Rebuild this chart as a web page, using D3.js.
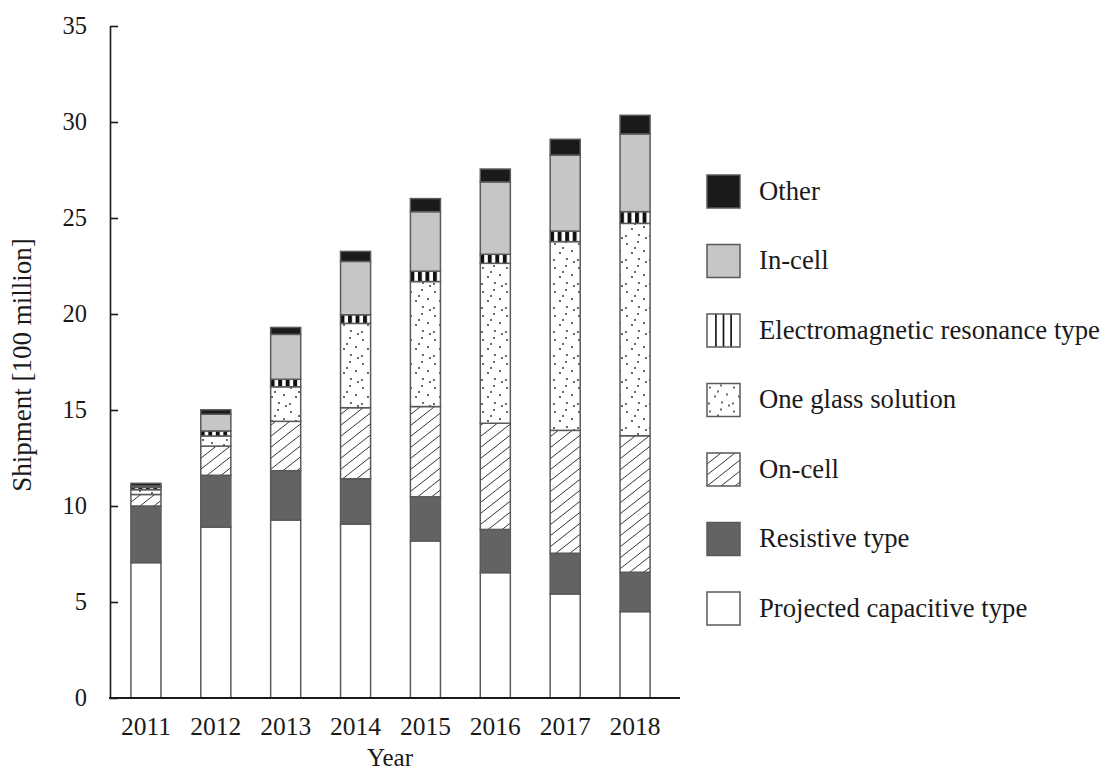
<!DOCTYPE html>
<html>
<head>
<meta charset="utf-8">
<script src="https://cdn.jsdelivr.net/npm/d3@7"></script>
<style>
  html, body { margin: 0; padding: 0; background: #fff; }
  svg { display: block; }
  text { font-family: "Liberation Serif", "Times New Roman", serif; fill: #1a1a1a; }
</style>
</head>
<body>
<svg id="chart" width="1103" height="774"></svg>
<script>
// Touch panel shipments by technology, in units of 100 million
const years = ["2011", "2012", "2013", "2014", "2015", "2016", "2017", "2018"];

const projectedCapacitive = [7.05, 8.90, 9.27, 9.06, 8.18, 6.53, 5.42, 4.50];
const resistive           = [2.95, 2.70, 2.57, 2.36, 2.30, 2.25, 2.12, 2.05];
const onCell              = [0.60, 1.52, 2.57, 3.70, 4.70, 5.53, 6.40, 7.11];
const oneGlassSolution    = [0.25, 0.53, 1.80, 4.39, 6.51, 8.33, 9.83, 11.06];
const electromagnetic     = [0.12, 0.26, 0.39, 0.45, 0.54, 0.47, 0.55, 0.61];
const inCell              = [0.08, 0.87, 2.34, 2.78, 3.10, 3.77, 3.96, 4.05];
const other               = [0.13, 0.23, 0.36, 0.52, 0.68, 0.67, 0.82, 0.97];

const seriesNames = [
  "Projected capacitive type", "Resistive type", "On-cell", "One glass solution",
  "Electromagnetic resonance type", "In-cell", "Other"
];
const seriesValues = [projectedCapacitive, resistive, onCell, oneGlassSolution,
                      electromagnetic, inCell, other];
const yTicks = [0, 5, 10, 15, 20, 25, 30, 35];

const svg = d3.select("#chart");
const defs = svg.append("defs");

// ---- fill patterns ----
// diagonal hatch
const hatch = defs.append("pattern")
  .attr("id", "hatch").attr("patternUnits", "userSpaceOnUse")
  .attr("width", 14).attr("height", 11);
hatch.append("rect").attr("width", 14).attr("height", 11).attr("fill", "#fff");
hatch.append("path").attr("d", "M-1,11.8 L15,-0.8 M-15,11.8 L1,-0.8 M13,11.8 L29,-0.8")
  .attr("stroke", "#333").attr("stroke-width", 1);

// sparse stipple
const stipple = defs.append("pattern")
  .attr("id", "stipple").attr("patternUnits", "userSpaceOnUse")
  .attr("width", 24).attr("height", 24);
stipple.append("rect").attr("width", 24).attr("height", 24).attr("fill", "#fff");
[[3, 4], [14, 2], [20, 11], [8, 13], [2, 20], [15, 19], [11, 8], [22, 22]].forEach(([x, y]) =>
  stipple.append("circle").attr("cx", x).attr("cy", y).attr("r", 0.9).attr("fill", "#222"));

// vertical stripes across a bar segment
const stripes = defs.append("pattern")
  .attr("id", "stripes").attr("patternUnits", "objectBoundingBox")
  .attr("patternContentUnits", "objectBoundingBox")
  .attr("width", 0.25).attr("height", 1);
stripes.append("rect").attr("width", 0.25).attr("height", 1).attr("fill", "#fff");
stripes.append("rect").attr("width", 0.13).attr("height", 1).attr("fill", "#111");

// thin vertical rules for the legend swatch
const rules = defs.append("pattern")
  .attr("id", "rules").attr("patternUnits", "objectBoundingBox")
  .attr("patternContentUnits", "objectBoundingBox")
  .attr("width", 1).attr("height", 1);
rules.append("rect").attr("width", 1).attr("height", 1).attr("fill", "#fff");
[0.27, 0.5, 0.73].forEach(x =>
  rules.append("rect").attr("x", x - 0.025).attr("width", 0.05).attr("height", 1).attr("fill", "#111"));

const fills = ["#ffffff", "#636363", "url(#hatch)", "url(#stipple)", "url(#stripes)", "#c6c6c6", "#1a1a1a"];
const legendFills = ["#ffffff", "#636363", "url(#hatch)", "url(#stipple)", "url(#rules)", "#c6c6c6", "#1a1a1a"];

// ---- scales ----
const x = d3.scaleBand().domain(years).range([111, 670])
  .paddingInner(0.57).paddingOuter(0.285);
const y = d3.scaleLinear().domain([0, 35]).range([698, 26]);

// ---- stacked data ----
const rows = years.map((yr, i) => {
  const r = { year: yr };
  seriesNames.forEach((n, k) => r[n] = seriesValues[k][i]);
  return r;
});
const stacked = d3.stack().keys(seriesNames)(rows);

const layers = svg.append("g").selectAll("g")
  .data(stacked).join("g")
  .attr("fill", (d, i) => fills[i]);

layers.selectAll("rect")
  .data(d => d).join("rect")
  .attr("x", d => x(d.data.year))
  .attr("width", x.bandwidth())
  .attr("y", d => y(d[1]))
  .attr("height", d => y(d[0]) - y(d[1]))
  .attr("stroke", "#5a5a5a")
  .attr("stroke-width", 1.5);

// ---- axes ----
const yAxis = d3.axisLeft(y).tickValues(yTicks).tickSizeInner(-8).tickSizeOuter(0).tickPadding(23);
const gy = svg.append("g").attr("transform", "translate(110,0)").call(yAxis);
gy.select(".domain").attr("stroke", "#1a1a1a").attr("stroke-width", 1.6);
gy.selectAll(".tick line").attr("stroke", "#1a1a1a").attr("stroke-width", 1.6);
gy.selectAll(".tick text").attr("font-size", 24.5).attr("font-family", "Liberation Serif").attr("fill", "#1a1a1a");

const xAxis = d3.axisBottom(x).tickSize(0).tickPadding(0);
const gx = svg.append("g").attr("transform", "translate(0,698)").call(xAxis);
gx.select(".domain").remove();
gx.selectAll(".tick text")
  .attr("y", 37).attr("dy", 0)
  .attr("font-size", 25.5).attr("font-family", "Liberation Serif").attr("fill", "#1a1a1a");
svg.append("line")
  .attr("x1", 109).attr("x2", 680).attr("y1", 698).attr("y2", 698)
  .attr("stroke", "#1a1a1a").attr("stroke-width", 1.8);

// ---- axis titles ----
svg.append("text")
  .attr("transform", "translate(31,365) rotate(-90)")
  .attr("text-anchor", "middle")
  .attr("font-size", 27)
  .text("Shipment [100 million]");

svg.append("text")
  .attr("x", 390).attr("y", 766)
  .attr("text-anchor", "middle")
  .attr("font-size", 25)
  .text("Year");

// ---- legend (top entry is the top of the stack) ----
const legendOrder = d3.range(seriesNames.length).reverse();
const legend = svg.append("g").selectAll("g")
  .data(legendOrder).join("g")
  .attr("transform", (k, i) => `translate(707,${175 + i * 69.5})`);
legend.append("rect")
  .attr("width", 33).attr("height", 33)
  .attr("fill", k => legendFills[k])
  .attr("stroke", "#5a5a5a").attr("stroke-width", 1.5);
legend.append("text")
  .attr("x", 52).attr("y", 24.5)
  .attr("font-size", 26.7)
  .text(k => seriesNames[k]);
</script>
</body>
</html>
